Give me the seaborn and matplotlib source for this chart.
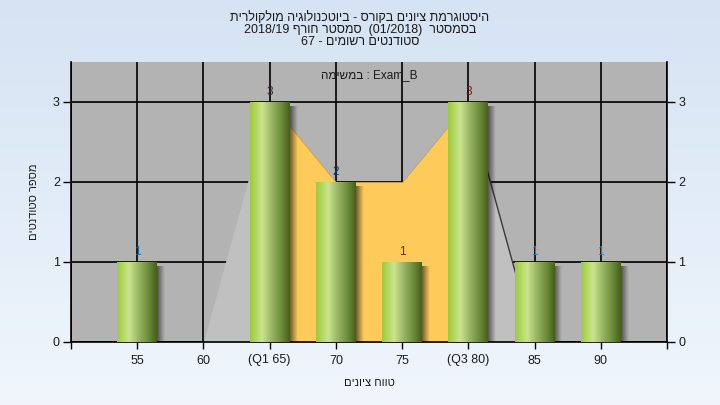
import numpy as np
import matplotlib
matplotlib.use("Agg")
import matplotlib.pyplot as plt
import seaborn as sns
from matplotlib.colors import LinearSegmentedColormap

# ---------------- data ----------------
grades = ["55", "60", "65", "70", "75", "80", "85", "90"]
counts = [1, 0, 3, 2, 1, 3, 1, 1]
tick_labels = ["55", "60", "(Q1 65)", "70", "75", "(Q3 80)", "85", "90"]
label_colors = ["#2a6a9a", "#2a6a9a", "#3a2a3a", "#1a3a6a", "#7a1a1a", "#7a1a1a", "#2a7ab0", "#2a7ab0"]

tail_left_grades = ["60", "65"]
tail_left_values = [0, 3]
iqr_grades = ["65", "70", "75", "80"]
iqr_values = [3, 2, 2, 3]
tail_right_grades = ["80", "85"]
tail_right_values = [3, 0]

# Hebrew text written in visual (left-to-right display) order
title_lines = [
    "תירלוקלומ היגולונכטויב - סרוקב םינויצ תמרגוטסיה",
    "2018/19 ףרוח רטסמס  (01/2018)  רטסמסב",
    "67 - םימושר םיטנדוטס",
]
subtitle = "המישמב : Exam_B"
x_label = "םינויצ חווט"
y_label = "םיטנדוטס רפסמ"

# ---------------- style ----------------
sns.set_theme(style="white")
plt.rcParams["font.family"] = ["Liberation Sans", "DejaVu Sans"]

fig = plt.figure(figsize=(7.2, 4.05), dpi=100)

# background gradient
bg = fig.add_axes([0, 0, 1, 1], zorder=-10)
grad = np.linspace(0, 1, 256).reshape(-1, 1)
bg_cmap = LinearSegmentedColormap.from_list("bg", ["#d5e3f3", "#f0f6fc"])
bg.imshow(grad, aspect="auto", cmap=bg_cmap, extent=[0, 1, 0, 1], origin="upper")
bg.set_axis_off()

L, R, T, B = 71, 667, 62, 342
ax = fig.add_axes([L / 720, 1 - B / 405, (R - L) / 720, (B - T) / 405])
ax.set_facecolor("#b3b3b3")

pos = {g: i for i, g in enumerate(grades)}

# areas
ax.fill_between([pos[g] for g in tail_left_grades], tail_left_values, 0,
                color="#c0c0c0", lw=0, zorder=1)
ax.fill_between([pos[g] for g in tail_right_grades], tail_right_values, 0,
                color="#c0c0c0", lw=0, zorder=1)
ax.plot([pos[g] for g in tail_right_grades], tail_right_values, color="#3a3a3a", lw=1, zorder=1.2)
ax.fill_between([pos[g] for g in iqr_grades], iqr_values, 0,
                color="#fecb5a", edgecolor="#c9a24a", lw=0.6, zorder=1.1)

# bars
sns.barplot(x=grades, y=counts, order=grades, width=0.6, color="#9ccc3c",
            ax=ax, zorder=3, saturation=1, edgecolor="none", linewidth=0)

bar_cmap = LinearSegmentedColormap.from_list(
    "bar", [(0, "#9ccb3a"), (0.3, "#cbe48f"), (0.55, "#98b464"), (0.8, "#6a8a3a"), (1, "#465f1c")])
hgrad = np.linspace(0, 1, 128).reshape(1, -1)
shadow = np.zeros((1, 32, 4))
shadow[0, :, 3] = np.linspace(0.55, 0.0, 32)

for p in list(ax.patches):
    if not hasattr(p, "get_height"):
        continue
    h = p.get_height()
    if h <= 0:
        p.set_visible(False)
        continue
    x0, w = p.get_x(), p.get_width()
    ax.imshow(hgrad, extent=[x0, x0 + w, 0, h], aspect="auto", cmap=bar_cmap, zorder=3.2)
    ax.imshow(shadow, extent=[x0 + w, x0 + w + 0.11, 0, h - 0.05], aspect="auto", zorder=2.9)

for i, c in enumerate(counts):
    if c > 0:
        ax.annotate(str(c), (i, c), xytext=(0, 3), textcoords="offset points",
                    ha="center", va="bottom", fontsize=8.5, color=label_colors[i], zorder=6)

# axes
ax.set_xlim(-1, 8)
ax.set_ylim(0, 3.5)
ax.set_xticks(range(-1, 9))
ax.set_xticklabels([""] + tick_labels + [""], fontsize=9, color="#1a1a2a")
ax.set_yticks([0, 1, 2, 3])
ax.set_yticklabels(["0", "1", "2", "3"], fontsize=9, color="#1a1a1a")
ax.tick_params(axis="y", left=True, right=True, labelleft=True, labelright=True,
               direction="out", length=6, width=1, color="black", pad=2)
ax.tick_params(axis="x", bottom=True, direction="out", length=5, width=1, color="black", pad=4)
ax.set_axisbelow(True)
ax.grid(True, color="black", lw=1.2)
for s in ["left", "right", "bottom"]:
    ax.spines[s].set_visible(True)
    ax.spines[s].set_color("black")
    ax.spines[s].set_linewidth(1.2)
ax.spines["top"].set_visible(False)

ax.set_xlabel(x_label, fontsize=8, labelpad=8, color="#1a1a1a")
ax.set_ylabel(y_label, fontsize=8, labelpad=10, color="#1a1a1a")

ax.text(0.5, 1 - 13 / 280, subtitle, transform=ax.transAxes, ha="center", va="center",
        fontsize=8.5, color="#1a1a1a", zorder=7)

for k, line in enumerate(title_lines):
    fig.text(0.5, 1 - (18 + 12 * k) / 405, line, ha="center", va="center",
             fontsize=9, color="#1a1a1a")

fig.savefig("out.png", dpi=100)
